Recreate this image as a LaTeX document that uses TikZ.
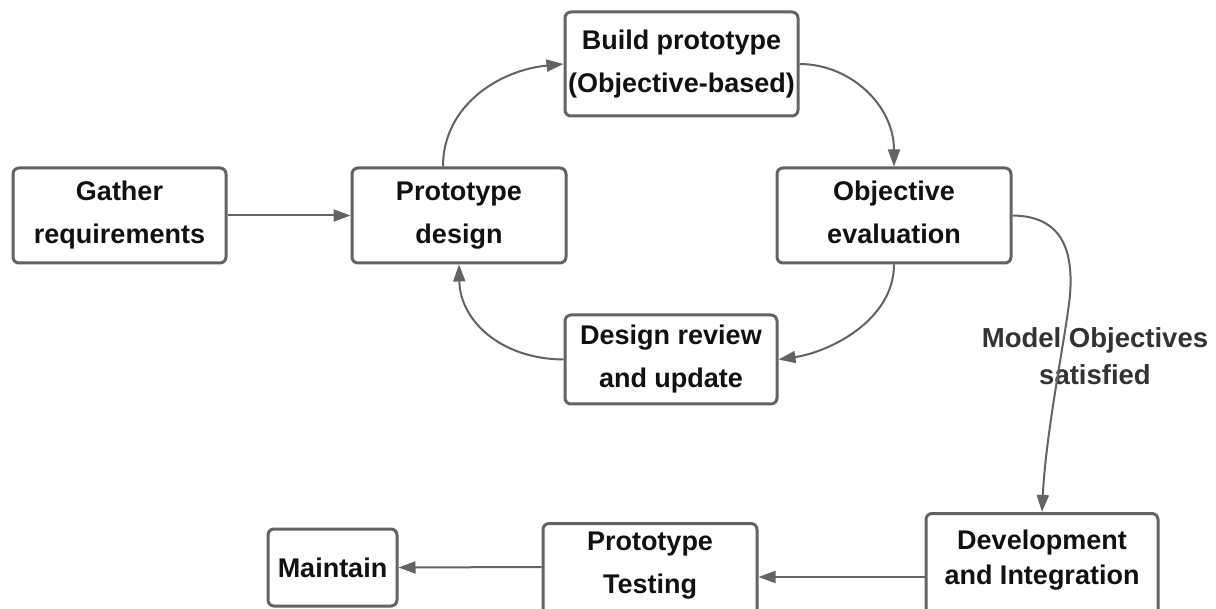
\documentclass[tikz,border=0pt]{standalone}
\usepackage{fontspec}
\setmainfont{Liberation Sans}
\usetikzlibrary{arrows.meta}
\definecolor{edge}{HTML}{636363}
\definecolor{ink}{HTML}{111111}
\definecolor{note}{HTML}{333333}
% keeps the lower line of a label at the usual descender depth
\newcommand{\lowstrut}{\rule[-5.8pt]{0pt}{5.8pt}}
\begin{document}
\begin{tikzpicture}[x=1pt,y=-1pt,
  box/.style={draw=edge, line width=3pt, rounded corners=6pt, fill=white,
    inner sep=0pt, text=ink, align=center,
    font=\bfseries\fontsize{27}{43}\selectfont},
  boxtext/.style={inner sep=0pt, text=ink, align=center,
    font=\bfseries\fontsize{27}{43}\selectfont},
  notetext/.style={inner sep=0pt, text=note, align=center,
    font=\bfseries\fontsize{27.5}{37}\selectfont},
  flow/.style={draw=edge, line width=2pt, -{Triangle[length=17pt,width=12pt]}},
]
\fill[white] (0,0) rectangle (1216,609);
\clip (0,0) rectangle (1216,609);

% process boxes
\node[box, minimum width=213pt, minimum height=95pt] (gather) at (119.5,215.5) {Gather\\requirements};
\node[box, minimum width=214pt, minimum height=95pt] (pdes) at (459,215.5) {Prototype\\design};
\node[box, minimum width=233pt, minimum height=104pt] (build) at (681.5,64) {Build prototype\\(Objective-based)};
\node[box, minimum width=234pt, minimum height=95pt] (obj) at (894,215.5) {Objective\\evaluation\lowstrut};
\node[box, minimum width=212pt, minimum height=89pt] (rev) at (671,359.5) {Design review\\and update};
\node[box, minimum width=129pt, minimum height=77pt] (maint) at (332.5,567.5) {Maintain};

% boxes running off the lower edge
\node[box, minimum width=232pt, minimum height=120pt, anchor=north] (dev) at (1042,512) {};
\node[boxtext, font=\bfseries\fontsize{27}{35}\selectfont] (devt) at (1042,560.5) {Development\\and Integration};
\node[box, minimum width=214pt, minimum height=110pt, anchor=north] (test) at (650,522) {};
\node[boxtext] (testt) at (650,566) {Prototype\\Testing};

% condition label
\node[notetext] (cond) at (1095,356) {Model Objectives\\satisfied};

% connectors
\draw[flow] (gather.east) -- (pdes.west);
\draw[flow] ([xshift=-16pt]pdes.north) .. controls (443,105) and (500,70) .. (build.west);
\draw[flow] (build.east) .. controls (850,64) and (894,105) .. (obj.north);
\draw[flow] (obj.south) .. controls (894,320) and (830,352) .. (rev.east);
\draw[flow] (rev.west) .. controls (500,359) and (460,320) .. (pdes.south);
\draw[flow] (obj.east) .. controls (1058,216) and (1074,245) .. (1070,295)
  .. controls (1066,335) and (1046,430) .. (dev.north);
\draw[flow] ([yshift=-65pt]dev.north west) -- ([yshift=-55pt]test.north east);
\draw[flow] ([yshift=-45pt]test.north west) -- (maint.east);
\end{tikzpicture}
\end{document}
